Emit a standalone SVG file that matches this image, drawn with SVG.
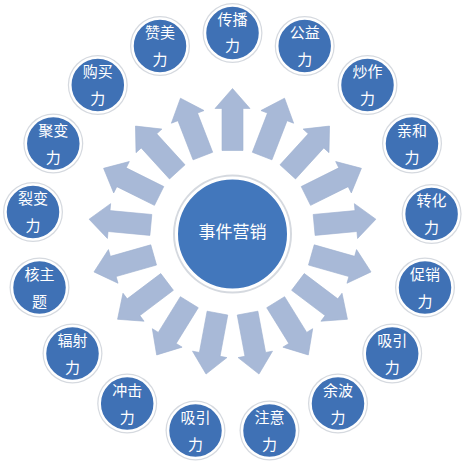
<svg xmlns="http://www.w3.org/2000/svg" xmlns:xlink="http://www.w3.org/1999/xlink" width="464" height="464" viewBox="0 0 464 464">
<style>
.bg{fill:#ffffff}
.arrow{fill:#a8b9d7;stroke:#9fb1d0;stroke-width:0.6}
.halo{fill:#d5d9df}
.node{fill:#3f71b5;stroke:#ffffff;stroke-width:2.5}
.hub{fill:#4277bc;stroke:#ffffff;stroke-width:3}
.lbl{fill:#ffffff;font-family:"Noto Sans CJK SC","Noto Sans",sans-serif;font-size:15px;text-anchor:middle}
.hubl{fill:#ffffff;font-family:"Noto Sans CJK SC","Noto Sans",sans-serif;font-size:17px;text-anchor:middle}
</style>
<defs>
<path id="arr" d="M -10.5 -82 L 10.5 -82 L 10.5 -124 L 17.5 -124 L 0 -144 L -17.5 -124 L -10.5 -124 Z"/>
</defs>
<rect class="bg" x="0" y="0" width="464" height="464"/>
<g id="connectors" class="arrow">
<use xlink:href="#arr" href="#arr" transform="translate(232.5 232.5) rotate(0)"/>
<use xlink:href="#arr" href="#arr" transform="translate(232.5 232.5) rotate(21.176)"/>
<use xlink:href="#arr" href="#arr" transform="translate(232.5 232.5) rotate(42.353)"/>
<use xlink:href="#arr" href="#arr" transform="translate(232.5 232.5) rotate(63.529)"/>
<use xlink:href="#arr" href="#arr" transform="translate(232.5 232.5) rotate(84.706)"/>
<use xlink:href="#arr" href="#arr" transform="translate(232.5 232.5) rotate(105.882)"/>
<use xlink:href="#arr" href="#arr" transform="translate(232.5 232.5) rotate(127.059)"/>
<use xlink:href="#arr" href="#arr" transform="translate(232.5 232.5) rotate(148.235)"/>
<use xlink:href="#arr" href="#arr" transform="translate(232.5 232.5) rotate(169.412)"/>
<use xlink:href="#arr" href="#arr" transform="translate(232.5 232.5) rotate(190.588)"/>
<use xlink:href="#arr" href="#arr" transform="translate(232.5 232.5) rotate(211.765)"/>
<use xlink:href="#arr" href="#arr" transform="translate(232.5 232.5) rotate(232.941)"/>
<use xlink:href="#arr" href="#arr" transform="translate(232.5 232.5) rotate(254.118)"/>
<use xlink:href="#arr" href="#arr" transform="translate(232.5 232.5) rotate(275.294)"/>
<use xlink:href="#arr" href="#arr" transform="translate(232.5 232.5) rotate(296.471)"/>
<use xlink:href="#arr" href="#arr" transform="translate(232.5 232.5) rotate(317.647)"/>
<use xlink:href="#arr" href="#arr" transform="translate(232.5 232.5) rotate(338.824)"/>
</g>
<g id="hub">
<circle class="halo" cx="232.5" cy="234" r="59.5"/>
<circle class="hub" cx="232.5" cy="234" r="56"/>
<text class="hubl" x="232.5" y="238">事件营销</text>
</g>
<g id="n0"><circle class="halo" cx="232.5" cy="33" r="30"/><circle class="node" cx="232.5" cy="33" r="27.5"/><text class="lbl" x="232.5" y="25">传播</text><text class="lbl" x="232.5" y="51">力</text></g>
<g id="n1"><circle class="halo" cx="304.7" cy="46" r="30"/><circle class="node" cx="304.7" cy="46" r="27.5"/><text class="lbl" x="304.7" y="38">公益</text><text class="lbl" x="304.7" y="65">力</text></g>
<g id="n2"><circle class="halo" cx="367.5" cy="85" r="30"/><circle class="node" cx="367.5" cy="85" r="27.5"/><text class="lbl" x="367.5" y="77">炒作</text><text class="lbl" x="367.5" y="104">力</text></g>
<g id="n3"><circle class="halo" cx="412" cy="143.5" r="30"/><circle class="node" cx="412" cy="143.5" r="27.5"/><text class="lbl" x="412" y="135.5">亲和</text><text class="lbl" x="412" y="162.5">力</text></g>
<g id="n4"><circle class="halo" cx="431.6" cy="214" r="30"/><circle class="node" cx="431.6" cy="214" r="27.5"/><text class="lbl" x="431.6" y="206">转化</text><text class="lbl" x="431.6" y="233">力</text></g>
<g id="n5"><circle class="halo" cx="425" cy="287.5" r="30"/><circle class="node" cx="425" cy="287.5" r="27.5"/><text class="lbl" x="425" y="279.5">促销</text><text class="lbl" x="425" y="306.5">力</text></g>
<g id="n6"><circle class="halo" cx="392.2" cy="353.5" r="30"/><circle class="node" cx="392.2" cy="353.5" r="27.5"/><text class="lbl" x="392.2" y="345.5">吸引</text><text class="lbl" x="392.2" y="372.5">力</text></g>
<g id="n7"><circle class="halo" cx="338" cy="403.5" r="30"/><circle class="node" cx="338" cy="403.5" r="27.5"/><text class="lbl" x="338" y="395.5">余波</text><text class="lbl" x="338" y="422.5">力</text></g>
<g id="n8"><circle class="halo" cx="269.5" cy="430.5" r="30"/><circle class="node" cx="269.5" cy="430.5" r="27.5"/><text class="lbl" x="269.5" y="422.5">注意</text><text class="lbl" x="269.5" y="449.5">力</text></g>
<g id="n9"><circle class="halo" cx="195.5" cy="430.5" r="30"/><circle class="node" cx="195.5" cy="430.5" r="27.5"/><text class="lbl" x="195.5" y="422.5">吸引</text><text class="lbl" x="195.5" y="449.5">力</text></g>
<g id="n10"><circle class="halo" cx="127.2" cy="403.5" r="30"/><circle class="node" cx="127.2" cy="403.5" r="27.5"/><text class="lbl" x="127.2" y="395.5">冲击</text><text class="lbl" x="127.2" y="422.5">力</text></g>
<g id="n11"><circle class="halo" cx="72.5" cy="353.5" r="30"/><circle class="node" cx="72.5" cy="353.5" r="27.5"/><text class="lbl" x="72.5" y="345.5">辐射</text><text class="lbl" x="72.5" y="372.5">力</text></g>
<g id="n12"><circle class="halo" cx="39.5" cy="287.5" r="30"/><circle class="node" cx="39.5" cy="287.5" r="27.5"/><text class="lbl" x="39.5" y="279.5">核主</text><text class="lbl" x="39.5" y="306.5">题</text></g>
<g id="n13"><circle class="halo" cx="33" cy="212" r="30"/><circle class="node" cx="33" cy="212" r="27.5"/><text class="lbl" x="33" y="204">裂变</text><text class="lbl" x="33" y="231">力</text></g>
<g id="n14"><circle class="halo" cx="53.3" cy="143.5" r="30"/><circle class="node" cx="53.3" cy="143.5" r="27.5"/><text class="lbl" x="53.3" y="135.5">聚变</text><text class="lbl" x="53.3" y="162.5">力</text></g>
<g id="n15"><circle class="halo" cx="97.8" cy="85" r="30"/><circle class="node" cx="97.8" cy="85" r="27.5"/><text class="lbl" x="97.8" y="77">购买</text><text class="lbl" x="97.8" y="104">力</text></g>
<g id="n16"><circle class="halo" cx="160" cy="46" r="30"/><circle class="node" cx="160" cy="46" r="27.5"/><text class="lbl" x="160" y="38">赞美</text><text class="lbl" x="160" y="65">力</text></g>
</svg>
